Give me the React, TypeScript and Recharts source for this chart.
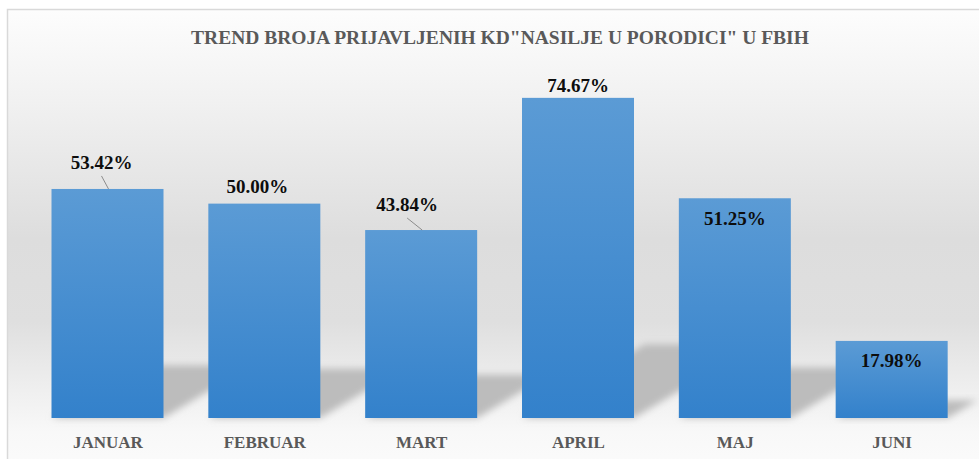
import { BarChart, Bar, XAxis, YAxis, LabelList } from 'recharts';

const months = ['JANUAR', 'FEBRUAR', 'MART', 'APRIL', 'MAJ', 'JUNI'];
const shares = [53.42, 50.0, 43.84, 74.67, 51.25, 17.98];

// label placement tweaks per bar: [dx, dy from bar top to baseline, leader line]
const labelPlacement: [number, number, boolean][] = [
	[-6, -20, true],
	[-7, -11, false],
	[-14, -19, true],
	[0, -6, false],
	[0, 27, false],
	[0, 26, false],
];

const W = 979;
const H = 459;
const serif = '"Liberation Serif", "Times New Roman", serif';

const data = months.map((m, i) => ({ month: m, value: shares[i] }));

function ShadowBar(props: any) {
	const { x, y, width, height } = props;
	if (!height || height <= 0) return null;
	const base = y + height;
	const dy = height * 0.23;
	const dx = dy / 0.6;
	const pts = [
		[x, base],
		[x + width, base],
		[x + width + dx, base - dy],
		[x + dx, base - dy],
	]
		.map((p) => p.join(','))
		.join(' ');
	return (
		<g>
			<polygon points={pts} fill="#bcbcbc" filter="url(#softShadow)" />
			<rect x={x} y={y} width={width} height={height} fill="url(#barGrad)" />
		</g>
	);
}

function ValueLabel(props: any) {
	const { x, y, width, value, index } = props;
	const [dx, dy, leader] = labelPlacement[index];
	const cx = x + width / 2;
	const lx = cx + dx;
	const ly = y + dy;
	return (
		<g>
			{leader && (
				<line
					x1={cx + 1}
					y1={y}
					x2={lx}
					y2={ly + 7}
					stroke="#8c8c8c"
					strokeWidth={1}
				/>
			)}
			<text
				x={lx}
				y={ly}
				textAnchor="middle"
				fontFamily={serif}
				fontWeight="bold"
				fontSize={19}
				fill="#0d0d0d"
			>
				{Number(value).toFixed(2)}%
			</text>
		</g>
	);
}

function MonthTick(props: any) {
	const { x, y, payload } = props;
	return (
		<text
			x={x}
			y={y + 22}
			textAnchor="middle"
			fontFamily={serif}
			fontWeight="bold"
			fontSize={17}
			fill="#595959"
		>
			{payload.value}
		</text>
	);
}

export default function App() {
	return (
		<div
			style={{
				position: 'absolute',
				left: 0,
				top: 0,
				width: W,
				height: H,
				background: '#ffffff',
			}}
		>
			<svg
				width={W}
				height={H}
				style={{ position: 'absolute', left: 0, top: 0 }}
			>
				<defs>
					<linearGradient id="bgGrad" x1="0" y1="0" x2="0" y2="1">
						<stop offset="0" stopColor="#fdfdfd" />
						<stop offset="0.2" stopColor="#f1f1f1" />
						<stop offset="0.5" stopColor="#dddddd" />
						<stop offset="0.68" stopColor="#dfdfdf" />
						<stop offset="0.8" stopColor="#ececec" />
						<stop offset="0.92" stopColor="#f8f8f8" />
						<stop offset="1" stopColor="#fbfbfb" />
					</linearGradient>
				</defs>
				<rect
					x={7.5}
					y={9.5}
					width={W}
					height={H}
					fill="url(#bgGrad)"
					stroke="#d9d9d9"
					strokeWidth={1.5}
				/>
				<text
					x={500}
					y={44}
					textAnchor="middle"
					fontFamily={serif}
					fontWeight="bold"
					fontSize={19.5}
					fill="#595959"
				>
					TREND BROJA PRIJAVLJENIH KD"NASILJE U PORODICI" U FBIH
				</text>
			</svg>
			<div style={{ position: 'absolute', left: 0, top: 0 }}>
				<BarChart
					width={W}
					height={H}
					data={data}
					margin={{ top: 75, right: 8.5, left: 29.5, bottom: 11 }}
				>
					<defs>
						<linearGradient id="barGrad" x1="0" y1="0" x2="0" y2="1">
							<stop offset="0" stopColor="#5b9bd5" />
							<stop offset="1" stopColor="#3381cb" />
						</linearGradient>
						<filter
							id="softShadow"
							x="-30%"
							y="-30%"
							width="160%"
							height="160%"
						>
							<feGaussianBlur stdDeviation="3.5" />
						</filter>
					</defs>
					<XAxis
						dataKey="month"
						axisLine={false}
						tickLine={false}
						height={30}
						interval={0}
						tick={<MonthTick />}
					/>
					<YAxis hide domain={[0, 80]} />
					<Bar
						dataKey="value"
						barSize={112}
						shape={<ShadowBar />}
						isAnimationActive={false}
					>
						<LabelList dataKey="value" content={<ValueLabel />} />
					</Bar>
				</BarChart>
			</div>
		</div>
	);
}
